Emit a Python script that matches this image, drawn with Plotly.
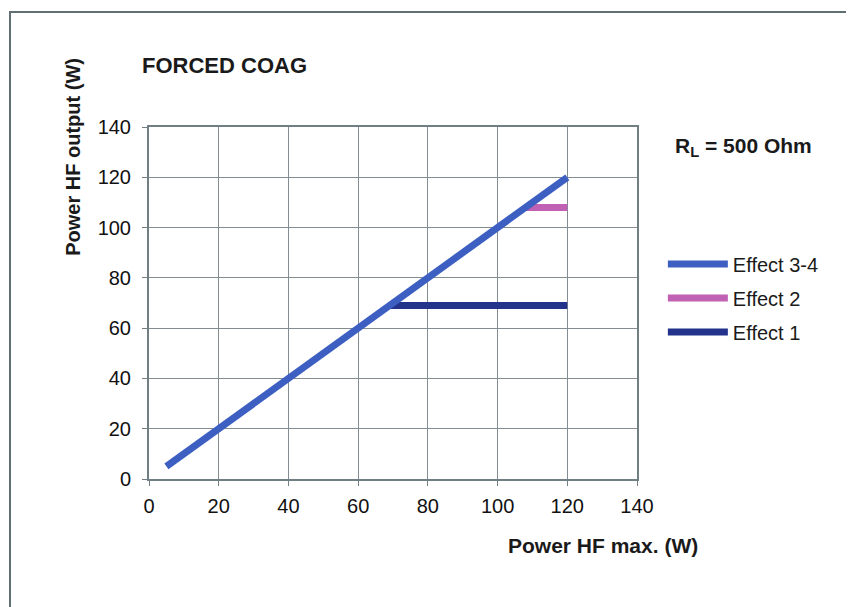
import plotly.graph_objects as go

# series
effect34_x = [5, 120]
effect34_y = [5, 120]
effect2_x = [108, 120]
effect2_y = [108, 108]
effect1_x = [69, 120]
effect1_y = [69, 69]

tick_vals = [0, 20, 40, 60, 80, 100, 120, 140]

font = "Liberation Sans, Arial, sans-serif"
ink = "#1a1a1a"

fig = go.Figure()
fig.add_trace(go.Scatter(x=effect1_x, y=effect1_y, mode="lines", name="Effect 1",
                         legendgroup="e1", legendrank=3,
                         line=dict(color="#23328a", width=7)))
fig.add_trace(go.Scatter(x=effect2_x, y=effect2_y, mode="lines", name="Effect 2",
                         legendgroup="e2", legendrank=2,
                         line=dict(color="#c161b3", width=7)))
fig.add_trace(go.Scatter(x=effect34_x, y=effect34_y, mode="lines", name="Effect 3-4",
                         legendgroup="e34", legendrank=1,
                         line=dict(color="#3d5fc2", width=7)))

axis_common = dict(
    range=[0, 140], tickvals=tick_vals, showgrid=True, gridcolor="#838d91", gridwidth=1,
    showline=True, linecolor="#6f7f84", linewidth=2, mirror=True,
    ticks="outside", ticklen=5, tickcolor="#6f7f84",
    tickfont=dict(family=font, size=20, color="#111111"), zeroline=False,
)

fig.update_xaxes(**axis_common, ticklabelstandoff=3)
fig.update_yaxes(**axis_common, ticklabelstandoff=7)

# the page body adds an 8px offset, margins are set with that in mind
fig.update_layout(
    width=854, height=607,
    margin=dict(l=141, r=225, t=119, b=136),
    plot_bgcolor="white", paper_bgcolor="white",
    font=dict(family=font, color=ink),
    showlegend=True,
    legend=dict(x=1.053, y=0.666, xanchor="left", yanchor="top",
                font=dict(family=font, size=20, color=ink),
                tracegroupgap=5, itemwidth=60, bgcolor="rgba(0,0,0,0)"),
    shapes=[dict(type="rect", xref="paper", yref="paper",
                 x0=-0.2848, x1=1.6, y0=-0.5, y1=1.3267,
                 line=dict(color="#5f6f74", width=2), layer="below")],
    annotations=[
        dict(text="<b>FORCED COAG</b>", xref="paper", yref="paper",
             x=-0.018, y=1.176, xanchor="left", yanchor="middle", showarrow=False,
             font=dict(family=font, size=22, color=ink)),
        dict(text="<b>Power HF output (W)</b>", xref="paper", yref="paper",
             x=-0.156, y=0.915, xanchor="center", yanchor="middle", textangle=-90,
             showarrow=False, font=dict(family=font, size=20, color=ink)),
        dict(text="<b>Power HF max. (W)</b>", xref="paper", yref="paper",
             x=1.129, y=-0.1875, xanchor="right", yanchor="middle", showarrow=False,
             font=dict(family=font, size=21, color=ink)),
        dict(text="<b>R<sub>L</sub> = 500 Ohm</b>", xref="paper", yref="paper",
             x=1.074, y=0.943, xanchor="left", yanchor="middle", showarrow=False,
             font=dict(family=font, size=21, color=ink)),
    ],
)

fig.write_html("out.html")
